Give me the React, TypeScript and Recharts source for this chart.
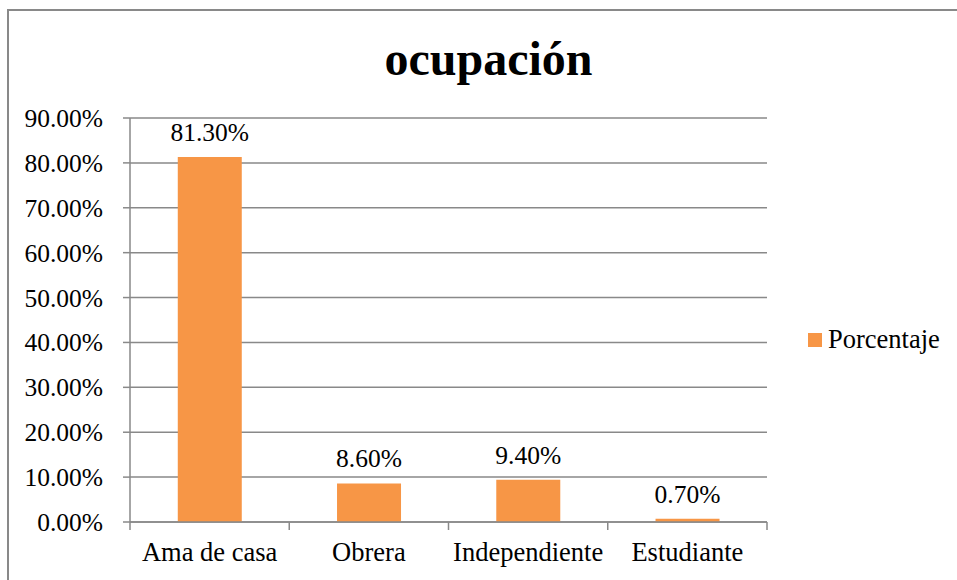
import React from 'react';
import { BarChart, Bar, XAxis, YAxis, CartesianGrid, Legend, LabelList } from 'recharts';

const categories = ['Ama de casa', 'Obrera', 'Independiente', 'Estudiante'];
const porcentaje = [81.3, 8.6, 9.4, 0.7];
const yTicks = [0, 10, 20, 30, 40, 50, 60, 70, 80, 90];

const chartData = categories.map((name, i) => ({ name, Porcentaje: porcentaje[i] }));

const FONT = '"Liberation Serif", "Times New Roman", serif';
const AXIS_GRAY = '#898989';

const pct = (v: number) => `${Number(v).toFixed(2)}%`;

const CategoryTick = (props: any) => {
  const { x, y, payload, width } = props;
  const half = payload?.offset ?? width / categories.length / 2;
  const isLast = payload?.index === categories.length - 1;
  return (
    <g>
      <line x1={x - half} x2={x - half} y1={y} y2={y + 8} stroke={AXIS_GRAY} strokeWidth={1.5} />
      {isLast && <line x1={x + half} x2={x + half} y1={y} y2={y + 8} stroke={AXIS_GRAY} strokeWidth={1.5} />}
      <text x={x} y={y + 39} textAnchor="middle" fontSize={26.5} fontFamily={FONT} fill="#000">
        {payload.value}
      </text>
    </g>
  );
};

const LegendBox = (props: any) => {
  const items = props.payload || [];
  return (
    <div style={{ fontFamily: FONT, fontSize: 26.5, color: '#000' }}>
      {items.map((it: any) => (
        <div key={it.value} style={{ display: 'flex', alignItems: 'center' }}>
          <span style={{ display: 'inline-block', width: 14, height: 14, background: it.color, marginRight: 6 }} />
          <span>{it.value}</span>
        </div>
      ))}
    </div>
  );
};

export default function App() {
  return (
    <div style={{ position: 'absolute', left: 0, top: 0, width: 957, height: 580, overflow: 'hidden', background: '#fff' }}>
      <div
        style={{
          position: 'absolute',
          left: 7,
          top: 9,
          width: 1000,
          height: 620,
          border: `2px solid ${AXIS_GRAY}`,
        }}
      />
      <div
        style={{
          position: 'absolute',
          left: 0,
          top: 35,
          width: 977,
          textAlign: 'center',
          fontFamily: FONT,
          fontWeight: 'bold',
          fontSize: 48,
          lineHeight: '48px',
          color: '#000',
        }}
      >
        ocupación
      </div>
      <div style={{ position: 'absolute', left: 0, top: 0 }}>
        <BarChart
          width={957}
          height={580}
          data={chartData}
          margin={{ top: 118, right: 190, bottom: 18, left: 0 }}
          barCategoryGap="30%"
        >
          <CartesianGrid vertical={false} stroke={AXIS_GRAY} strokeWidth={1.5} />
          <XAxis
            dataKey="name"
            height={40}
            axisLine={{ stroke: AXIS_GRAY, strokeWidth: 1.5 }}
            tickLine={false}
            tickSize={0}
            tickMargin={0}
            interval={0}
            tick={<CategoryTick />}
          />
          <YAxis
            width={130}
            domain={[0, 90]}
            ticks={yTicks}
            interval={0}
            tickFormatter={pct}
            axisLine={{ stroke: AXIS_GRAY, strokeWidth: 1.5 }}
            tickLine={{ stroke: AXIS_GRAY, strokeWidth: 1.5 }}
            tickSize={7}
            tickMargin={20}
            tick={{ fontSize: 25.5, fontFamily: FONT, fill: '#000' }}
          />
          <Legend
            layout="vertical"
            align="center"
            verticalAlign="middle"
            content={<LegendBox />}
            wrapperStyle={{ position: 'absolute', left: 808, top: 324, width: 150 }}
          />
          <Bar dataKey="Porcentaje" fill="#F79646" isAnimationActive={false}>
            <LabelList
              dataKey="Porcentaje"
              position="top"
              offset={16}
              formatter={(v: any) => pct(v)}
              style={{ fontSize: 25.5, fontFamily: FONT, fill: '#000' }}
            />
          </Bar>
        </BarChart>
      </div>
    </div>
  );
}
